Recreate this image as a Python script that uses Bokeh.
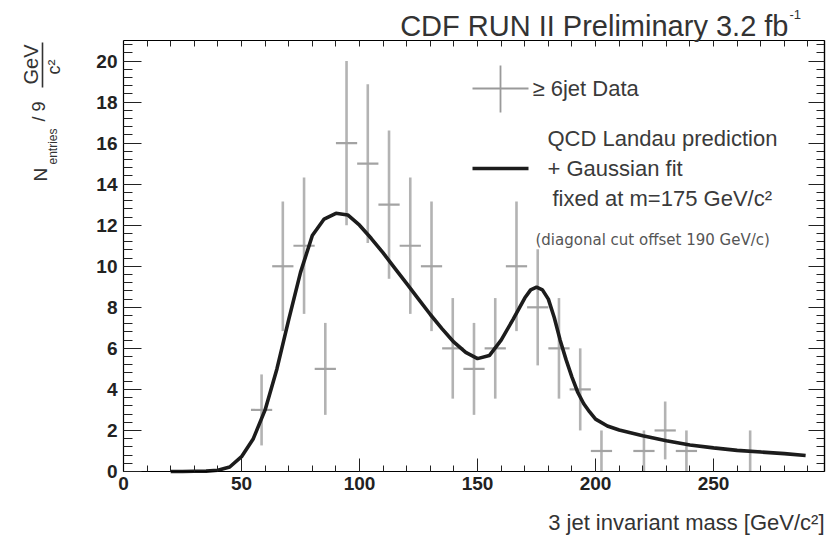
import math

from bokeh.plotting import figure
from bokeh.models import (Range1d, LinearAxis, SingleIntervalTicker, FixedTicker,
                          Label, ColumnDataSource)
from bokeh.embed import file_html
from bokeh.resources import INLINE

# ---- data: >= 6 jet events per 9 GeV/c^2 bin (empty bins are not drawn) ----
bin_centers = [58.5, 67.5, 76.5, 85.5, 94.5, 103.5, 112.5, 121.5, 130.5, 139.5,
               148.5, 157.5, 166.5, 175.5, 184.5, 193.5, 202.5, 220.5, 229.5,
               238.5, 265.5]
counts = [3, 10, 11, 5, 16, 15, 13, 11, 10, 6,
          5, 6, 10, 8, 6, 4, 1, 1, 2, 1, 1]
count_errors = [1.73, 3.16, 3.32, 2.24, 4.0, 3.87, 3.61, 3.32, 3.16, 2.45,
                2.24, 2.45, 3.16, 2.83, 2.45, 2.0, 1.0, 1.0, 1.41, 1.0, 1.0]
bin_width = 9.0

# ---- QCD Landau prediction + Gaussian (m = 175 GeV/c^2) fit curve ----
fit_mass = [20, 25, 30, 35, 40, 45, 50, 55, 60, 65, 70, 75, 80, 85, 90, 95,
            100, 105, 110, 115, 120, 125, 130, 135, 140, 145, 150, 155, 160,
            165, 170, 172.5, 175, 177.5, 180, 182.5, 185, 187.5, 190, 192.5,
            195, 197.5, 200, 205, 210, 220, 230, 240, 250, 260, 270, 280, 289]
fit_value = [0.0, 0.0, 0.01, 0.02, 0.06, 0.22, 0.72, 1.6, 3.0, 5.0, 7.4, 9.7,
             11.5, 12.3, 12.58, 12.5, 12.0, 11.35, 10.65, 9.9, 9.15, 8.4, 7.65,
             6.95, 6.3, 5.8, 5.5, 5.65, 6.4, 7.4, 8.45, 8.85, 8.98, 8.85, 8.4,
             7.5, 6.4, 5.45, 4.6, 3.85, 3.3, 2.9, 2.55, 2.22, 2.02, 1.74, 1.5,
             1.29, 1.15, 1.03, 0.95, 0.87, 0.78]

X_MAX = 297.0
Y_MAX = 21.0

# ---- canvas geometry: the histogram box sits inside a full-canvas frame ----
W, H = 836, 536
BOX_L, BOX_R, BOX_T, BOX_B = 123, 824, 40, 471


def sx(px):
    """canvas pixel column -> data x"""
    return (px - BOX_L) * X_MAX / (BOX_R - BOX_L)


def sy(py):
    """canvas pixel row -> data y"""
    return (BOX_B - py) * Y_MAX / (BOX_B - BOX_T)


p = figure(width=W, height=H, output_backend="svg", toolbar_location=None,
           x_range=Range1d(sx(0), sx(W)), y_range=Range1d(sy(H), sy(0)),
           x_axis_location=None, y_axis_location=None,
           min_border=0, min_border_left=0, min_border_right=0,
           min_border_top=0, min_border_bottom=0)
p.grid.visible = False
p.outline_line_color = None
p.background_fill_color = "white"
p.border_fill_color = "white"

TICK_COLOR = "#222222"


def make_axis(loc, bounds, ticker, tick_in, minor_in):
    ax = LinearAxis(fixed_location=loc, bounds=bounds, ticker=ticker)
    ax.major_tick_in = tick_in
    ax.major_tick_out = 0
    ax.minor_tick_in = minor_in
    ax.minor_tick_out = 0
    ax.axis_line_color = "black"
    ax.axis_line_width = 1.2
    ax.major_tick_line_color = TICK_COLOR
    ax.minor_tick_line_color = TICK_COLOR
    ax.major_label_text_font = "Liberation Sans"
    ax.major_label_text_font_style = "bold"
    ax.major_label_text_font_size = "19px"
    ax.major_label_text_color = "#222222"
    return ax


# main axes (with labels)
xa = make_axis(0, (0, X_MAX), SingleIntervalTicker(interval=50, num_minor_ticks=5), 13, 6)
xa.major_label_standoff = 5
p.add_layout(xa, "below")

ya = make_axis(0, (0, Y_MAX), SingleIntervalTicker(interval=2, num_minor_ticks=5), 18, 9)
ya.major_label_standoff = 6
p.add_layout(ya, "left")

# opposite-side tick marks (minor-only tickers, so no labels are drawn)
top_minor = [10 * i for i in range(1, 30)]
top_ax = make_axis(Y_MAX, (0, X_MAX), FixedTicker(ticks=[], minor_ticks=top_minor), 0, 6)
p.add_layout(top_ax, "above")

right_minor = [round(0.4 * i, 1) for i in range(1, 53)]
right_ax = make_axis(X_MAX, (0, Y_MAX), FixedTicker(ticks=[], minor_ticks=right_minor), 0, 8)
p.add_layout(right_ax, "right")
right_major = [2 * i for i in range(1, 11)]
right_ax2 = make_axis(X_MAX, (0, Y_MAX), FixedTicker(ticks=[], minor_ticks=right_major), 0, 16)
p.add_layout(right_ax2, "right")

# ---- data crosses (statistical error + bin width) ----
src = ColumnDataSource(dict(
    x=bin_centers,
    y=counts,
    lo=[c - e for c, e in zip(counts, count_errors)],
    hi=[c + e for c, e in zip(counts, count_errors)],
    left=[x - bin_width / 2 for x in bin_centers],
    right=[x + bin_width / 2 for x in bin_centers],
))
p.segment(x0="x", y0="lo", x1="x", y1="hi", source=src,
          line_color="#b3b3b3", line_width=2.6)
p.segment(x0="left", y0="y", x1="right", y1="y", source=src,
          line_color="#a3a3a3", line_width=2.2)

# ---- fit curve ----
p.line(fit_mass, fit_value, line_color="#1c1c1c", line_width=3.6)

# ---- legend (drawn by hand) ----
p.segment(x0=[sx(500)], y0=[sy(65)], x1=[sx(500)], y1=[sy(112)],
          line_color="#9a9a9a", line_width=1.8)
p.segment(x0=[sx(472)], y0=[sy(88)], x1=[sx(528)], y1=[sy(88)],
          line_color="#9a9a9a", line_width=1.8)
p.segment(x0=[sx(472)], y0=[sy(168)], x1=[sx(528)], y1=[sy(168)],
          line_color="#1c1c1c", line_width=3.6)

LEG_FONT = "Liberation Sans"
LEG_COLOR = "#3a3a3a"


def text(px, py, s, size, color=LEG_COLOR, font=LEG_FONT, align="left",
         baseline="middle", angle=0.0, style="normal"):
    p.add_layout(Label(x=sx(px), y=sy(py), text=s, text_font=font,
                       text_font_size=f"{size}px", text_color=color,
                       text_align=align, text_baseline=baseline,
                       angle=angle, text_font_style=style))


text(532, 88, "\u2265 6jet Data", 22)
text(547, 138, "QCD Landau prediction", 22)
text(547, 168, "+ Gaussian fit", 22)
text(552, 198, "fixed at m=175 GeV/c\u00b2", 22)
text(535, 239, "(diagonal cut offset 190 GeV/c)", 15, color="#555555",
     font="DejaVu Sans")

# ---- title ----
text(788, 25, "CDF RUN II Preliminary 3.2 fb", 29, color="#333333",
     align="right")
text(789, 14, "-1", 13, color="#333333")

# ---- x axis title ----
text(824, 522, "3 jet invariant mass [GeV/c\u00b2]", 22, color="#333333",
     align="right")

# ---- y axis title: N_entries / 9 (GeV / c^2), rotated ----
UP = math.pi / 2
text(40, 181, "N", 19, color="#333333", angle=UP)
text(52, 164, "entries", 12, color="#333333", angle=UP)
text(38, 121, "/ 9", 18, color="#333333", angle=UP)
text(30, 84, "GeV", 20, color="#333333", angle=UP)
text(53, 74, "c\u00b2", 18, color="#333333", angle=UP)
p.segment(x0=[sx(42)], y0=[sy(87)], x1=[sx(42)], y1=[sy(42)],
          line_color="#333333", line_width=1.6)

open("out.html", "w").write(file_html(p, INLINE))
